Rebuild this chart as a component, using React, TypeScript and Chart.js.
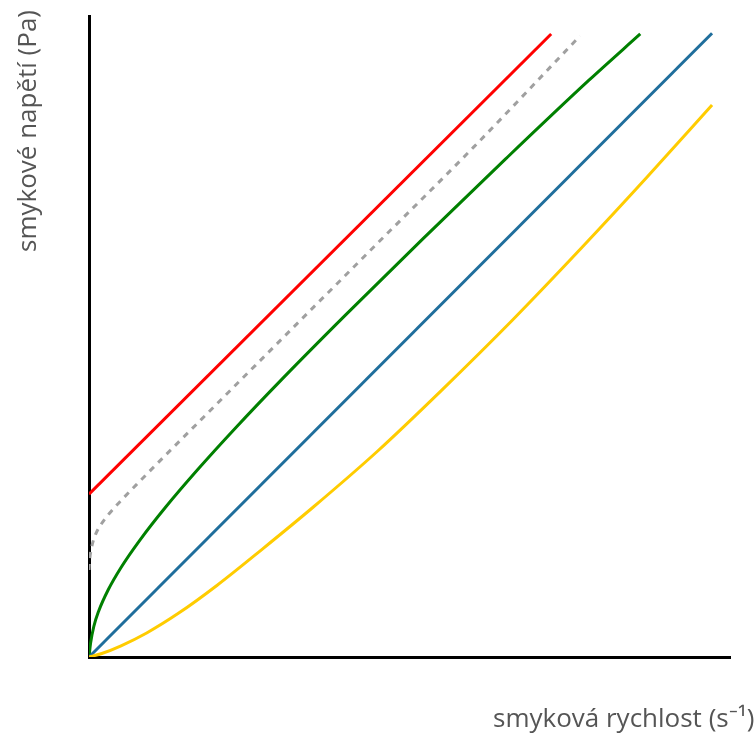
import React, { useEffect, useRef } from "react";
import { Chart, registerables } from "chart.js";

Chart.register(...registerables);

// Shear rate (x) and shear stress (y) readings, relative units 0..100
const binghamX = [0, 72.1];
const binghamY = [25.4, 97.2];

const cassonX = [0, 0.05, 0.15, 0.35, 0.7, 1.2, 2, 3.2, 5, 8, 12, 20, 30, 45, 60, 76.6];
const cassonY = [13.57, 14.55, 15.6, 16.85, 18.24, 19.51, 20.87, 22.43, 24.41, 27.5, 31.54, 39.54, 49.54, 64.54, 79.54, 96.89];

const pseudoX = [0, 0.25, 0.75, 1.5, 3, 5, 8, 12, 17, 23, 30, 40, 52, 65, 78, 86];
const pseudoY = [0, 2.19, 4.76, 7.14, 10.49, 13.97, 18.32, 23.44, 29.29, 35.89, 43.24, 53.34, 65.16, 77.71, 89.99, 97.2];

const newtonX = [0, 97.2];
const newtonY = [0, 97.3];

const dilatantX = [0, 2, 5, 9, 14, 20, 27, 35, 45, 55, 66, 77, 87, 97.2];
const dilatantY = [0, 0.55, 1.75, 3.75, 6.85, 11.2, 16.8, 23.4, 32.1, 41.6, 52.5, 64.0, 74.8, 86.1];

const xTitle = "smyková rychlost (s⁻¹)";
const yTitle = "smykové napětí (Pa)";

const toPoints = (xs: number[], ys: number[]) => xs.map((x, i) => ({ x, y: ys[i] }));

const titlesPlugin = {
  id: "axisTitles",
  afterDraw(chart: any) {
    const ctx = chart.ctx as CanvasRenderingContext2D;
    ctx.save();
    ctx.fillStyle = "#555555";
    ctx.font = '26px "Open Sans"';
    ctx.textBaseline = "alphabetic";
    ctx.textAlign = "left";
    ctx.fillText(xTitle, 493, 727);
    ctx.translate(36, 252);
    ctx.rotate(-Math.PI / 2);
    ctx.fillText(yTitle, 0, 0);
    ctx.restore();
  },
};

export default function App() {
  const ref = useRef<HTMLCanvasElement | null>(null);

  useEffect(() => {
    if (!ref.current) return;
    const common = { pointRadius: 0, borderWidth: 3, fill: false };
    const chart = new Chart(ref.current, {
      type: "line",
      data: {
        datasets: [
          { ...common, label: "dilatant", data: toPoints(dilatantX, dilatantY), borderColor: "#ffcc00", cubicInterpolationMode: "monotone" },
          { ...common, label: "newton", data: toPoints(newtonX, newtonY), borderColor: "#1f6e9c" },
          { ...common, label: "pseudo", data: toPoints(pseudoX, pseudoY), borderColor: "#008000", cubicInterpolationMode: "monotone" },
          { ...common, label: "casson", data: toPoints(cassonX, cassonY), borderColor: "#a0a0a0", borderDash: [6, 6], cubicInterpolationMode: "monotone" },
          { ...common, label: "bingham", data: toPoints(binghamX, binghamY), borderColor: "#ff0000" },
        ],
      },
      options: {
        animation: false,
        responsive: false,
        devicePixelRatio: 1,
        layout: { padding: { left: 89, top: 16, right: 26, bottom: 79 } },
        plugins: { legend: { display: false }, tooltip: { enabled: false }, title: { display: false } },
        scales: {
          x: {
            type: "linear",
            min: 0,
            max: 100,
            ticks: { display: false },
            grid: { display: false, drawTicks: false },
            border: { display: true, color: "#000000", width: 3 },
          },
          y: {
            type: "linear",
            min: 0,
            max: 100,
            ticks: { display: false },
            grid: { display: false, drawTicks: false },
            border: { display: true, color: "#000000", width: 3 },
          },
        },
      },
      plugins: [titlesPlugin],
    });
    return () => chart.destroy();
  }, []);

  return (
    <div style={{ position: "fixed", left: 0, top: 0, width: 756, height: 736, background: "#fff" }}>
      <canvas ref={ref} width={756} height={736} style={{ display: "block" }} />
    </div>
  );
}
